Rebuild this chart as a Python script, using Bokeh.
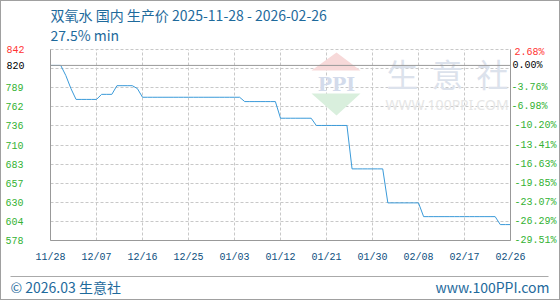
import pandas as pd
from bokeh.plotting import figure
from bokeh.layouts import column, row
from bokeh.models import (Range1d, LinearAxis, FixedTicker, Span, Label,
                          BoxAnnotation, PolyAnnotation, ColumnDataSource)
from bokeh.embed import file_html
from bokeh.resources import INLINE

# ---------------- data ----------------
title_text = "双氧水 国内 生产价 2025-11-28 - 2026-02-26"
subtitle_text = "27.5% min"
footer_left = "© 2026.03 生意社"
footer_right = "www.100PPI.com"
watermark_chars = ["生", "意", "社"]
watermark_url = "WWW.100PPI.COM"
logo_text = "PPI"

dates = pd.date_range("2025-11-28", "2026-02-26", freq="D")
prices = [
    820, 820, 820, 806, 788, 773, 773, 773, 773, 773,
    780, 780, 780, 792, 792, 792, 792, 788, 776, 776,
    776, 776, 776, 776, 776, 776, 776, 776, 776, 776,
    776, 776, 776, 776, 776, 776, 776, 776, 770, 770,
    770, 770, 770, 770, 770, 747, 747, 747, 747, 747,
    747, 747, 737, 737, 737, 737, 737, 737, 737, 677,
    677, 677, 677, 677, 677, 677, 630, 630, 630, 630,
    630, 630, 630, 611, 611, 611, 611, 611, 611, 611,
    611, 611, 611, 611, 611, 611, 611, 611, 600, 600,
    600,
]

x_tick_dates = ["2025-11-28", "2025-12-07", "2025-12-16", "2025-12-25", "2026-01-03",
                "2026-01-12", "2026-01-21", "2026-01-30", "2026-02-08", "2026-02-17",
                "2026-02-26"]
x_labels = ["11/28", "12/07", "12/16", "12/25", "01/03", "01/12", "01/21", "01/30",
            "02/08", "02/17", "02/26"]

y_min, y_max, y_base = 578, 842, 820
y_grid_ticks = [578, 604.4, 630.8, 657.2, 683.6, 710.0, 736.4, 762.8, 789.2, 815.6, 842]
y_ticks = [578, 604.4, 630.8, 657.2, 683.6, 710.0, 736.4, 762.8, 789.2]
y_labels = ["578", "604", "630", "657", "683", "710", "736", "762", "789"]
pct_labels = ["-29.51%", "-26.29%", "-23.07%", "-19.85%", "-16.63%", "-13.41%",
              "-10.20%", "-6.98%", "-3.76%"]
top_label, top_pct = "842", "2.68%"
base_label, base_pct = "820", "0.00%"

# ---------------- styles ----------------
LINE_C = "#3a9ad9"
GRID_C = "#c8c8c8"
AXIS_C = "#999999"
GREEN = "#33b233"
RED = "#ff3333"
BLUE_TXT = "#1e6a9c"
XLAB_C = "#0e4f80"
MONO = "Liberation Mono"
CJK = "Noto Sans CJK SC"
W = 558
HEAD_H, FOOT_H = 44, 28
MAIN_H = 298 - HEAD_H - FOOT_H          # 226
FRAME_TOP = 49 - 1 - HEAD_H             # border above the frame inside main fig

def ms(d):
    return pd.Timestamp(d).value / 1e6

x0, x1 = ms(dates[0]), ms(dates[-1])

# main frame geometry in page pixels (for placing watermark decorations)
FL, FR, FT, FB = 50, 510, 49, 240

def xd(px):
    return x0 + (px - FL) / (FR - FL) * (x1 - x0)

def yd(py):
    return y_max - (py - FT) / (FB - FT) * (y_max - y_min)


def blank_fig(height, top=0):
    # data coordinates == page pixels (x from the left, y downward)
    f = figure(width=W, height=height, x_range=Range1d(1, W + 1),
               y_range=Range1d(top + height, top),
               x_axis_location=None, y_axis_location=None,
               output_backend="svg", toolbar_location=None, min_border=0)
    f.grid.visible = False
    f.outline_line_color = None
    f.background_fill_color = "white"
    f.border_fill_color = "white"
    return f

# ---------------- header ----------------
head = blank_fig(HEAD_H, 1)
head.add_layout(Label(x=50, y=14.5, text=title_text, text_align="left",
                      text_baseline="middle", text_font=CJK, text_font_size="14px",
                      text_color=BLUE_TXT))
head.add_layout(Label(x=50, y=34.5, text=subtitle_text, text_align="left",
                      text_baseline="middle", text_font=CJK, text_font_size="14px",
                      text_color=BLUE_TXT))

# ---------------- main chart ----------------
source = ColumnDataSource(dict(date=list(dates), price=prices))

p = figure(width=W, height=MAIN_H, x_axis_type="datetime",
           x_range=Range1d(x0, x1), y_range=Range1d(y_min, y_max),
           output_backend="svg", toolbar_location=None,
           min_border_left=49, min_border_right=49,
           min_border_top=FRAME_TOP, min_border_bottom=MAIN_H - FRAME_TOP - 191)
p.outline_line_color = GRID_C
p.outline_line_dash = "3 2"
p.background_fill_color = "white"
p.border_fill_color = "white"

p.xgrid.ticker = FixedTicker(ticks=[ms(d) for d in x_tick_dates])
p.ygrid.ticker = FixedTicker(ticks=y_grid_ticks)
for g in (p.xgrid[0], p.ygrid[0]):
    g.grid_line_color = GRID_C
    g.grid_line_dash = "3 2"
    g.grid_line_width = 1

def style_axis(ax, standoff, color, align, line=True):
    ax.major_tick_line_color = None
    ax.minor_tick_line_color = None
    ax.major_tick_out = 0
    ax.major_tick_in = 0
    ax.minor_tick_out = 0
    ax.minor_tick_in = 0
    ax.axis_line_color = AXIS_C if line else None
    ax.major_label_standoff = standoff
    ax.major_label_text_font = MONO
    ax.major_label_text_font_size = "10px"
    ax.major_label_text_color = color
    ax.major_label_text_align = align

xa = p.xaxis[0]
xa.ticker = FixedTicker(ticks=[ms(d) for d in x_tick_dates])
xa.major_label_overrides = {ms(d): lab for d, lab in zip(x_tick_dates, x_labels)}
style_axis(xa, 11, XLAB_C, "center")

# left: green value labels
ya = p.yaxis[0]
ya.ticker = FixedTicker(ticks=y_ticks)
ya.major_label_overrides = dict(zip(y_ticks, y_labels))
style_axis(ya, 27, GREEN, "right")

# left: top (red) and base (black) labels, stacked onto the same column
for yv, lab, col in ((y_max, top_label, RED), (y_base, base_label, "black")):
    la = LinearAxis(ticker=FixedTicker(ticks=[yv]), major_label_overrides={yv: lab})
    style_axis(la, -22, col, "right", line=False)
    p.add_layout(la, "left")

# right: percentage labels; labels of equal width share one axis so they stay left-aligned
long_idx = [i for i, s in enumerate(pct_labels) if len(s) == 7]
short_idx = [i for i, s in enumerate(pct_labels) if len(s) != 7]
ra = LinearAxis(ticker=FixedTicker(ticks=[y_ticks[i] for i in long_idx]),
                major_label_overrides={y_ticks[i]: pct_labels[i] for i in long_idx})
style_axis(ra, 4, GREEN, "left")
p.add_layout(ra, "right")

ra2 = LinearAxis(ticker=FixedTicker(ticks=[y_ticks[i] for i in short_idx]),
                 major_label_overrides={y_ticks[i]: pct_labels[i] for i in short_idx})
style_axis(ra2, -48, GREEN, "left", line=False)
p.add_layout(ra2, "right")

for yv, lab, col, so in ((y_base, base_pct, "black", -47), (y_max, top_pct, RED, -45)):
    rax = LinearAxis(ticker=FixedTicker(ticks=[yv]), major_label_overrides={yv: lab})
    style_axis(rax, so, col, "left", line=False)
    p.add_layout(rax, "right")

p.add_layout(Span(location=y_base, dimension="width", line_color=AXIS_C, line_width=1))

# watermark
p.add_layout(PolyAnnotation(xs=[xd(311), xd(336), xd(360)], ys=[yd(70), yd(52), yd(70)],
                            fill_color="#f7d9d9", fill_alpha=1, line_color=None, level="underlay"))
p.add_layout(PolyAnnotation(xs=[xd(311), xd(360), xd(336)], ys=[yd(93), yd(93), yd(115)],
                            fill_color="#d9efdd", fill_alpha=1, line_color=None, level="underlay"))
p.add_layout(Label(x=xd(336), y=yd(83), text=logo_text, text_align="center",
                   text_baseline="middle", text_font="DejaVu Serif", text_font_style="bold",
                   text_font_size="19px", text_color="#d3dbeb", level="underlay"))
for i, ch in enumerate(watermark_chars):
    p.add_layout(Label(x=xd(386 + 45 * i), y=yd(72), text=ch, text_align="left",
                       text_baseline="middle", text_font=CJK, text_font_size="32px",
                       text_color="#dce2ec", level="underlay"))
p.add_layout(Label(x=xd(385), y=yd(104), text=watermark_url, text_align="left",
                   text_baseline="middle", text_font="Noto Sans", text_font_size="14px",
                   text_color="#e6e6e6", level="underlay"))

p.line(x="date", y="price", source=source, line_color=LINE_C, line_width=1)

# ---------------- footer ----------------
FOOT_TOP = 1 + HEAD_H + MAIN_H   # page y of footer's first row
foot = blank_fig(FOOT_H, FOOT_TOP)
foot.add_layout(BoxAnnotation(left=10, right=548, top=275.5, bottom=276.5,
                              fill_color="#aaaaaa", fill_alpha=1, line_color=None))
foot.add_layout(Label(x=10, y=286, text=footer_left, text_align="left",
                      text_baseline="middle", text_font=CJK, text_font_size="14px",
                      text_color=BLUE_TXT))
foot.add_layout(Label(x=549, y=286, text=footer_right, text_align="right",
                      text_baseline="middle", text_font=CJK, text_font_size="14px",
                      text_color=BLUE_TXT))

layout = column(row(head), p, row(foot), spacing=0)
layout.styles = {"border": "1px solid #a0a0a0"}

open("out.html", "w").write(file_html(layout, INLINE))
